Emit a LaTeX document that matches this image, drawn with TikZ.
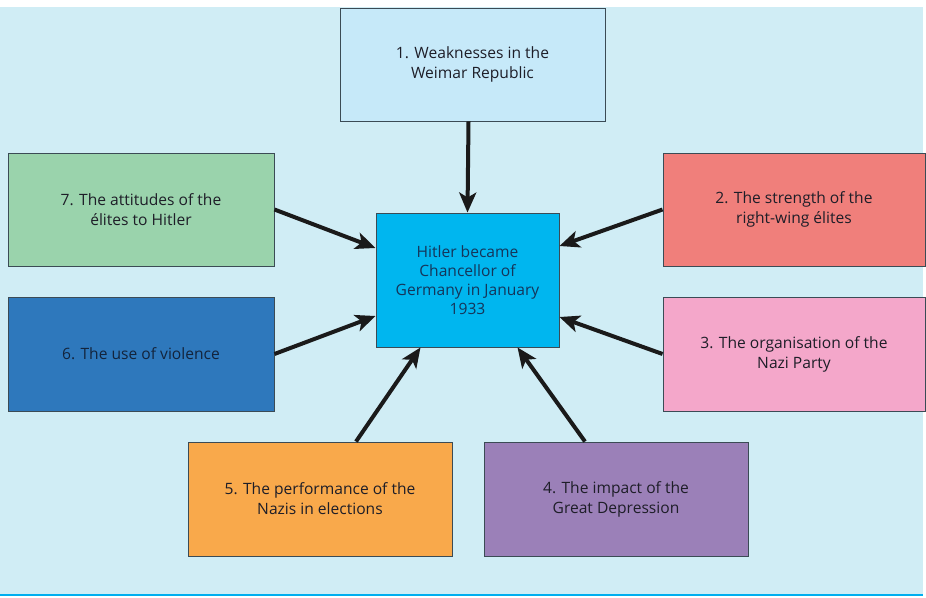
\documentclass[tikz,border=0pt]{standalone}
\usepackage{fontspec}
\setmainfont{Open Sans}
\usetikzlibrary{arrows.meta,calc}
\definecolor{bgblue}{HTML}{D0EDF5}
\definecolor{lineblue}{HTML}{00AEEF}
\definecolor{cOne}{HTML}{C6E9F9}
\definecolor{cCenter}{HTML}{00B6EF}
\definecolor{cSeven}{HTML}{9AD3AC}
\definecolor{cTwo}{HTML}{F07F7B}
\definecolor{cSix}{HTML}{2E78BC}
\definecolor{cThree}{HTML}{F4A7CA}
\definecolor{cFive}{HTML}{F9A94B}
\definecolor{cFour}{HTML}{9B80B8}
\definecolor{bordercol}{HTML}{3B4B55}
\definecolor{txtcol}{HTML}{1E1E28}
\definecolor{centretxt}{HTML}{15355A}
\definecolor{sixtxt}{HTML}{13243C}
\definecolor{arrcol}{HTML}{1A1A1A}
\tikzset{
  factorbox/.style={draw=bordercol, line width=0.9pt, minimum width=265pt, minimum height=113pt,
    align=center, text=txtcol, inner sep=0pt, font=\fontsize{15.6}{20}\selectfont},
  centrebox/.style={draw=bordercol, line width=0.9pt, fill=cCenter, minimum width=183pt, minimum height=134pt,
    align=center, text=centretxt, inner sep=0pt, font=\fontsize{15.6}{19}\selectfont},
  causearrow/.style={draw=arrcol, line width=4pt, -{Stealth[length=20pt,width=17pt,inset=5pt]}}
}
\begin{document}
\begin{tikzpicture}[x=1pt,y=-1pt]
\useasboundingbox (0,0) rectangle (926,597);
\fill[white] (0,0) rectangle (926,597);
\fill[bgblue] (0,7) rectangle (923,593.5);
\fill[lineblue] (0,593.5) rectangle (923,596);

\node[factorbox, fill=cOne] (b1) at (472.5,64.5) {1. Weaknesses in the\\Weimar Republic};
\node[centrebox] (c) at (467.5,280) {Hitler became\\Chancellor of\\Germany in January\\1933};
\node[factorbox, fill=cSeven, minimum width=266pt] (b7) at (141,209.5) {7. The attitudes of the\\élites to Hitler};
\node[factorbox, fill=cTwo, minimum width=262pt] (b2) at (794,209.5) {2. The strength of the\\right-wing élites};
\node[factorbox, fill=cSix, minimum width=266pt, minimum height=114pt, text=sixtxt] (b6) at (141,354) {6. The use of violence};
\node[factorbox, fill=cThree, minimum width=262pt, minimum height=114pt] (b3) at (794,354) {3. The organisation of the\\Nazi Party};
\node[factorbox, fill=cFive, minimum width=264pt, minimum height=114pt] (b5) at (320,499) {5. The performance of the\\Nazis in elections};
\node[factorbox, fill=cFour, minimum width=264pt, minimum height=114pt] (b4) at (616,499) {4. The impact of the\\Great Depression};

\draw[causearrow] ([xshift=-4pt]b1.south) -- (c.north);
\draw[causearrow] (b7.east) -- ([yshift=32pt]c.west);
\draw[causearrow] (b2.west) -- ([yshift=34pt]c.east);
\draw[causearrow] (b6.east) -- ([yshift=-36pt]c.west);
\draw[causearrow] (b3.west) -- ([yshift=-37pt]c.east);
\draw[causearrow] ([xshift=36pt]b5.north) -- ([xshift=-47pt]c.south);
\draw[causearrow] ([xshift=-31pt]b4.north) -- ([xshift=50pt]c.south);
\end{tikzpicture}
\end{document}
